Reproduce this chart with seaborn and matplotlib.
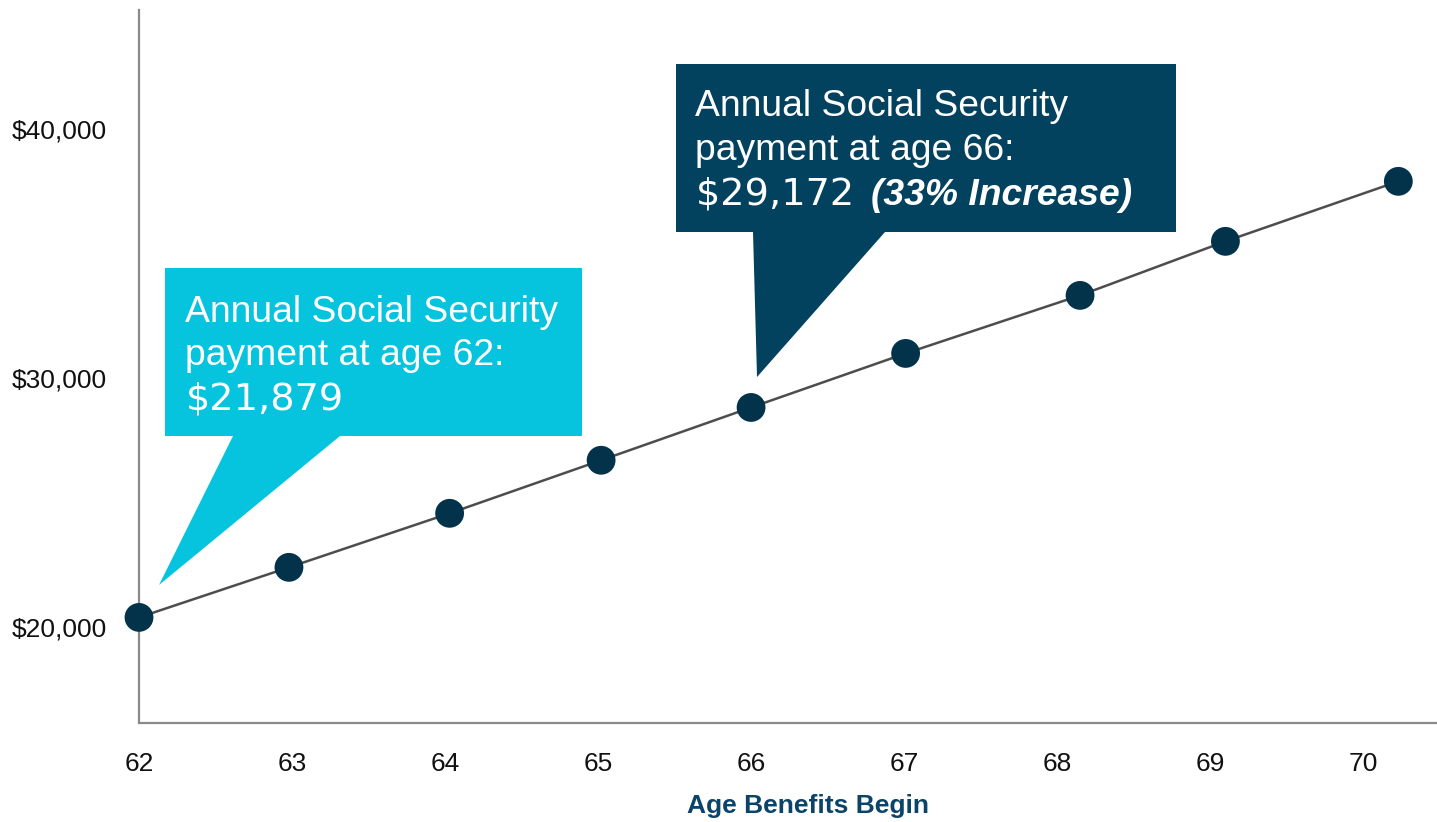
import matplotlib
matplotlib.use("Agg")
import matplotlib.pyplot as plt
import seaborn as sns
import pandas as pd
from matplotlib.patches import Polygon

# ---- data ----
ages = [62.0, 62.98, 64.03, 65.02, 66.0, 67.01, 68.15, 69.10, 70.23]
payments = [20390, 22400, 24570, 26700, 28820, 30990, 33320, 35490, 37900]
x_ticks = [62, 63, 64, 65, 66, 67, 68, 69, 70]
y_ticks = [20000, 30000, 40000]
y_tick_labels = ["$20,000", "$30,000", "$40,000"]
x_label = "Age Benefits Begin"
callout1_lines = ["Annual Social Security", "payment at age 62:", "$21,879"]
callout2_lines = ["Annual Social Security", "payment at age 66:", "$29,172 "]
callout2_bold = "(33% Increase)"

df = pd.DataFrame({"age": ages, "payment": payments})

sns.set_style("white")
plt.rcParams["font.family"] = ["Liberation Sans", "DejaVu Sans"]

W, H = 1437, 822
fig = plt.figure(figsize=(W / 100, H / 100), dpi=100)
ax = fig.add_axes([139 / W, 1 - 723 / H, (W - 139) / W, (723 - 10) / H])

LINE = "#4d4d4d"
NAVY = "#02334a"
CYAN = "#06c3de"
BOXNAVY = "#02425f"

sns.lineplot(data=df, x="age", y="payment", color=LINE, linewidth=1.8, sort=False, ax=ax, zorder=2)
sns.scatterplot(data=df, x="age", y="payment", color=NAVY, s=430, edgecolor="none",
                ax=ax, zorder=4, clip_on=False)

ax.set_xlim(62.0, 62 + (W - 140) / 152.9)
ax.set_ylim(16150, 44780)
ax.set_xticks(x_ticks)
ax.set_xticklabels([str(t) for t in x_ticks], fontsize=19, color="#111111")
ax.set_yticks(y_ticks)
ax.set_yticklabels(y_tick_labels, fontsize=19, color="#111111")
ax.tick_params(axis="x", length=0, pad=21)
ax.tick_params(axis="y", length=0, pad=23)

for s in ["top", "right"]:
    ax.spines[s].set_visible(False)
for s in ["left", "bottom"]:
    ax.spines[s].set_color("#8a8a8a")
    ax.spines[s].set_linewidth(1.6)

ax.set_xlabel(x_label, fontsize=19, fontweight="bold", color="#0b4468")
ax.xaxis.set_label_coords((808 - 139) / (W - 139), -(794 - 723) / (723 - 10))
ax.set_ylabel("")


def P(px, py):
    return (px / W, 1 - py / H)


# cyan callout
poly1 = [P(165, 268), P(582, 268), P(582, 436), P(340, 436), P(159, 585), P(233, 436), P(165, 436)]
fig.patches.append(Polygon(poly1, closed=True, transform=fig.transFigure, facecolor=CYAN,
                           edgecolor="none", zorder=5))
# navy callout
poly2 = [P(676, 64), P(1176, 64), P(1176, 232), P(885, 232), P(757, 377), P(753, 232), P(676, 232)]
fig.patches.append(Polygon(poly2, closed=True, transform=fig.transFigure, facecolor=BOXNAVY,
                           edgecolor="none", zorder=5))

fs = 26.8
base1 = [322, 365, 409]
for i, line in enumerate(callout1_lines):
    if i == 2:
        fig.text(*P(186, base1[i]), line, fontsize=27.5, color="white", va="baseline", ha="left",
                 family=["DejaVu Sans"], zorder=6)
    else:
        fig.text(*P(185, base1[i]), line, fontsize=fs, color="white", va="baseline", ha="left",
                 zorder=6)

base2 = [116, 160, 205]
for i, line in enumerate(callout2_lines):
    if i == 2:
        fig.text(*P(696, base2[i]), line, fontsize=27.5, color="white", va="baseline", ha="left",
                 family=["DejaVu Sans"], zorder=6)
    else:
        fig.text(*P(695, base2[i]), line, fontsize=fs, color="white", va="baseline", ha="left",
                 zorder=6)
fig.text(*P(871, base2[2]), callout2_bold, fontsize=fs, color="white", va="baseline", ha="left",
         fontweight="bold", fontstyle="italic", zorder=6)

fig.savefig("out.png", dpi=100)
